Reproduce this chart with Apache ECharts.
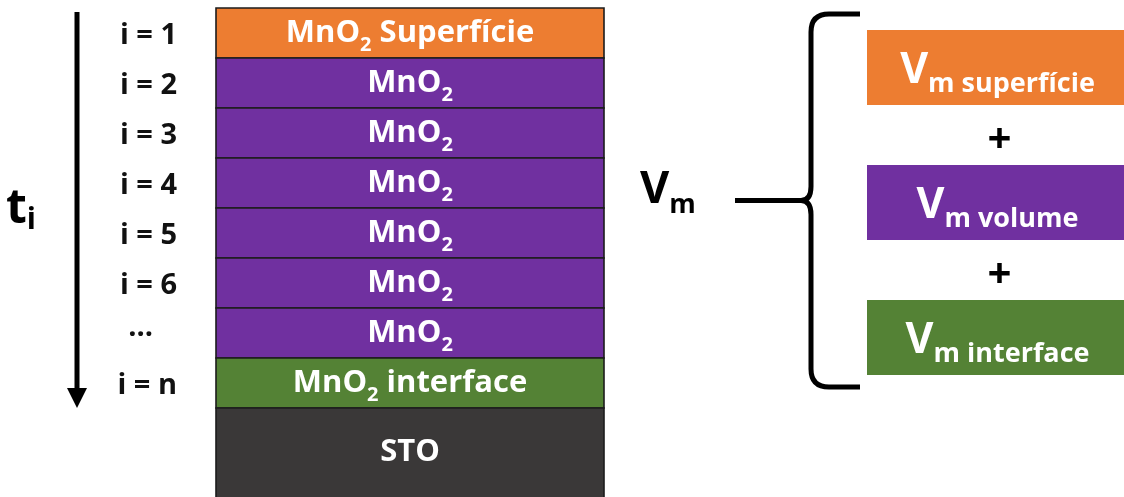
<!DOCTYPE html>
<html><head><meta charset="utf-8">
<script src="https://cdn.jsdelivr.net/npm/echarts@6/dist/echarts.min.js"></script>
<style>html,body{margin:0;padding:0;background:#fff}#c{width:1124px;height:497px}</style>
</head><body><div id="c"></div>
<script>
// ---- data ----
const layerLabels = ['MnO₂ Superfície','MnO₂','MnO₂','MnO₂','MnO₂','MnO₂','MnO₂','MnO₂ interface','STO'];
const layerKinds  = ['surface','volume','volume','volume','volume','volume','volume','interface','substrate'];
const indexLabels = ['i = 1','i = 2','i = 3','i = 4','i = 5','i = 6','...','i = n',''];
const termLabels  = ['superfície','volume','interface'];
const termKinds   = ['surface','volume','interface'];
const totalSymbol = ['V','m'];       // V_m
const thicknessSymbol = ['t','i'];   // t_i

// ---- style ----
const COLORS = {surface:'#ED7D31', volume:'#7030A0', interface:'#548235', substrate:'#3A3838'};
const FONT = '"Open Sans", "Liberation Sans", sans-serif';
const TERM_BOX_H = 75;

function richLayer(label){
  const parts = label.split('₂');
  if (parts.length === 1) return '{b|' + label + '}';
  return '{b|' + parts[0] + '}{s|2}' + (parts[1] ? '{b|' + parts[1] + '}' : '');
}
const layerRich = {
  b:{fontFamily:FONT, fontWeight:'bold', fontSize:31, fill:'#fff', lineHeight:36},
  s:{fontFamily:FONT, fontWeight:'bold', fontSize:20, fill:'#fff', padding:[25,0,0,0]}
};
const termRich = {
  V:{fontFamily:FONT, fontWeight:'bold', fontSize:43, fill:'#fff', lineHeight:46},
  m:{fontFamily:FONT, fontWeight:'bold', fontSize:27, fill:'#fff', padding:[28,0,0,0]}
};
const blackRich = {
  V:{fontFamily:FONT, fontWeight:'bold', fontSize:45, fill:'#000', lineHeight:48},
  m:{fontFamily:FONT, fontWeight:'bold', fontSize:27, fill:'#000', padding:[30,0,0,0]},
  t:{fontFamily:FONT, fontWeight:'bold', fontSize:48, fill:'#000', lineHeight:52},
  i:{fontFamily:FONT, fontWeight:'bold', fontSize:30, fill:'#000', padding:[22,0,0,0]}
};

const chart = echarts.init(document.getElementById('c'), null, {renderer:'canvas'});
const option = {
  animation:false,
  backgroundColor:'#fff',
  grid:[
    {left:216, top:8, width:388, height:450},
    {left:867, right:0, top:0, height:405}
  ],
  xAxis:[
    {type:'value', gridIndex:0, min:0, max:1, show:false},
    {type:'value', gridIndex:1, min:0, max:1, show:false}
  ],
  yAxis:[
    {type:'category', gridIndex:0, inverse:true, data:indexLabels,
     axisLine:{show:false}, axisTick:{show:false}, splitLine:{show:false},
     axisLabel:{interval:0, margin:39, fontFamily:FONT, fontWeight:'bold', fontSize:29, color:'#111',
       padding:[6,0,0,0],
       formatter:v => v === '...' ? '{d|...}' : v,
       rich:{d:{fontFamily:FONT, fontWeight:'bold', fontSize:29, color:'#111', padding:[0,24,16,0]}}}},
    {type:'category', gridIndex:1, inverse:true, data:termLabels, show:false}
  ],
  series:[
    {
      type:'custom', xAxisIndex:0, yAxisIndex:0, silent:true,
      data: layerLabels.map((l, i) => [0, i]),
      encode:{x:0, y:1},
      renderItem(params, api){
        const i = params.dataIndex;
        const cs = params.coordSys;
        const c = api.coord([0, i]);
        const band = api.size([0, 1])[1];
        const top = c[1] - band / 2;
        let h = band;
        let cy = c[1];
        if (layerKinds[i] === 'substrate') { h = api.getHeight() - top + 4; cy = top + (api.getHeight() - top) / 2; }
        return {type:'group', children:[
          {type:'rect', shape:{x:cs.x, y:top, width:cs.width, height:h},
           style:{fill:COLORS[layerKinds[i]], stroke:'#1c1c1c', lineWidth:1.6}},
          {type:'text', style:{text:richLayer(layerLabels[i]), x:cs.x + cs.width / 2, y:cy,
            align:'center', verticalAlign:'middle', fill:'#fff', rich:layerRich}}
        ]};
      }
    },
    {
      // thickness arrow and t_i, laid out from the stack grid
      type:'custom', xAxisIndex:0, yAxisIndex:0, silent:true,
      data:[[0, 0]], encode:{x:0, y:1},
      renderItem(params, api){
        const cs = params.coordSys;
        const band = api.size([0, 1])[1];
        const ax = cs.x - 139;
        const y0 = cs.y + 4;
        const y1 = cs.y + band * (indexLabels.length - 1);
        return {type:'group', children:[
          {type:'line', shape:{x1:ax, y1:y0, x2:ax, y2:y1 - 18}, style:{stroke:'#000', lineWidth:5}},
          {type:'polygon', shape:{points:[[ax - 10, y1 - 20], [ax + 10, y1 - 20], [ax, y1]]}, style:{fill:'#000'}},
          {type:'text', style:{text:'{t|' + thicknessSymbol[0] + '}{i|' + thicknessSymbol[1] + '}',
            x:cs.x - 210, y:cs.y + 201, align:'left', verticalAlign:'middle', rich:blackRich}}
        ]};
      }
    },
    {
      type:'custom', xAxisIndex:1, yAxisIndex:1, silent:true,
      data: termLabels.map((l, i) => [0, i]),
      encode:{x:0, y:1},
      renderItem(params, api){
        const i = params.dataIndex;
        const cs = params.coordSys;
        const c = api.coord([0, i]);
        const band = api.size([0, 1])[1];
        const cx = cs.x + cs.width / 2;
        const children = [
          {type:'rect', shape:{x:cs.x, y:c[1] - TERM_BOX_H / 2, width:cs.width, height:TERM_BOX_H},
           style:{fill:COLORS[termKinds[i]]}},
          {type:'text', style:{text:'{V|' + totalSymbol[0] + '}{m|' + totalSymbol[1] + ' ' + termLabels[i] + '}',
            x:cx + 2, y:c[1] + 3, align:'center', verticalAlign:'middle', fill:'#fff', rich:termRich}}
        ];
        if (i < termLabels.length - 1) {
          children.push({type:'text', style:{text:'+', x:cx + 4, y:c[1] + band / 2 + 6, align:'center', verticalAlign:'middle',
            fontFamily:FONT, fontWeight:'bold', fontSize:42, fill:'#000'}});
        }
        return {type:'group', children};
      }
    },
    {
      // brace + V_m, laid out from the terms grid
      type:'custom', xAxisIndex:1, yAxisIndex:1, silent:true,
      data:[[0, 0]], encode:{x:0, y:1},
      renderItem(params, api){
        const cs = params.coordSys;
        const n = termLabels.length;
        const yT = api.coord([0, 0])[1] - TERM_BOX_H / 2 - 16;
        const yB = api.coord([0, n - 1])[1] + TERM_BOX_H / 2 + 12;
        const yM = (yT + yB) / 2;
        const xt = cs.x - 7, xv = cs.x - 56, xp = cs.x - 66, r = 18;
        const d = `M${xt} ${yT} L${xv + r} ${yT} Q${xv} ${yT} ${xv} ${yT + r} L${xv} ${yM - 14} Q${xv} ${yM} ${xp} ${yM} ` +
                  `Q${xv} ${yM} ${xv} ${yM + 14} L${xv} ${yB - r} Q${xv} ${yB} ${xv + r} ${yB} L${xt} ${yB}`;
        return {type:'group', children:[
          {type:'path', shape:{pathData:d}, style:{fill:'none', stroke:'#000', lineWidth:5, lineJoin:'round'}},
          {type:'line', shape:{x1:cs.x - 132, y1:yM, x2:xp, y2:yM}, style:{stroke:'#000', lineWidth:5}},
          {type:'text', style:{text:'{V|' + totalSymbol[0] + '}{m|' + totalSymbol[1] + '}',
            x:cs.x - 227, y:yM - 10, align:'left', verticalAlign:'middle', rich:blackRich}}
        ]};
      }
    }
  ]
};
chart.setOption(option);
</script></body></html>
